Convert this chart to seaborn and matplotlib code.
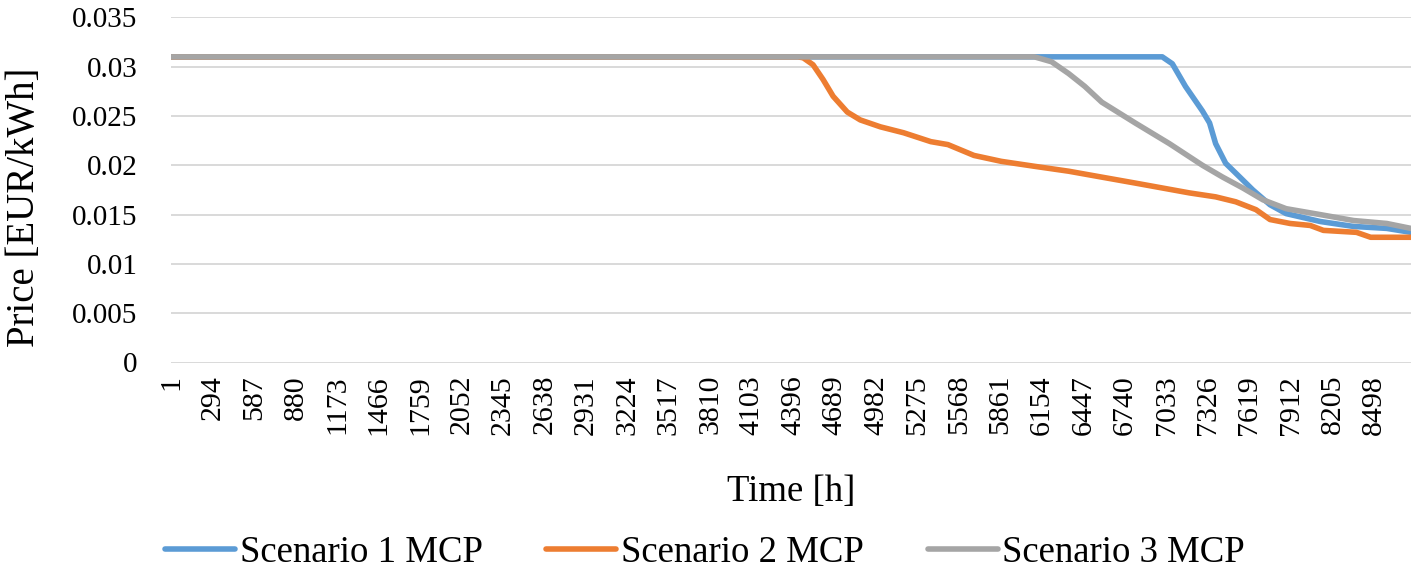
import matplotlib
matplotlib.use("Agg")
import matplotlib.pyplot as plt
import seaborn as sns
import pandas as pd

# ---- data ----
series_names = ["Scenario 1 MCP", "Scenario 2 MCP", "Scenario 3 MCP"]

hours_s1 = [1, 7003, 7074, 7167, 7287, 7337, 7380, 7451, 7551, 7643, 7764, 7878, 8119, 8354, 8589, 8760]
price_s1 = [0.031, 0.031, 0.0303, 0.0280, 0.0255, 0.0243, 0.0222, 0.0202, 0.0188, 0.0175, 0.0160,
            0.0151, 0.0143, 0.0138, 0.0136, 0.0132]

hours_s2 = [1, 4430, 4467, 4536, 4607, 4678, 4778, 4870, 5012, 5176, 5368, 5489, 5673, 5866, 6100,
            6342, 6576, 6811, 7003, 7195, 7380, 7522, 7665, 7764, 7906, 8048, 8141, 8375, 8475, 8760]
price_s2 = [0.031, 0.031, 0.0309, 0.0302, 0.0287, 0.0270, 0.0254, 0.0246, 0.0239, 0.0233, 0.0224,
            0.0221, 0.0210, 0.0204, 0.0199, 0.0194, 0.0188, 0.0182, 0.0177, 0.0172, 0.0168, 0.0163,
            0.0155, 0.0145, 0.0141, 0.0139, 0.0134, 0.0132, 0.0127, 0.0127]

hours_s3 = [1, 6100, 6221, 6342, 6456, 6576, 6811, 7053, 7287, 7430, 7572, 7714, 7878, 8119, 8354, 8589, 8760]
price_s3 = [0.031, 0.031, 0.0305, 0.0293, 0.0280, 0.0264, 0.0243, 0.0222, 0.0200, 0.0188, 0.0177,
            0.0165, 0.0156, 0.0150, 0.0144, 0.0141, 0.0136]

x_tick_labels = ["1", "294", "587", "880", "1173", "1466", "1759", "2052", "2345", "2638", "2931",
                 "3224", "3517", "3810", "4103", "4396", "4689", "4982", "5275", "5568", "5861",
                 "6154", "6447", "6740", "7033", "7326", "7619", "7912", "8205", "8498"]
y_tick_values = [0, 0.005, 0.01, 0.015, 0.02, 0.025, 0.03, 0.035]
y_tick_labels = ["0", "0.005", "0.01", "0.015", "0.02", "0.025", "0.03", "0.035"]

colors = ["#5B9BD5", "#ED7D31", "#A5A5A5"]

# ---- build long-form table ----
frames = []
for name, h, p in zip(series_names, [hours_s1, hours_s2, hours_s3], [price_s1, price_s2, price_s3]):
    frames.append(pd.DataFrame({"Time": h, "Price": p, "Series": name}))
df = pd.concat(frames, ignore_index=True)

sns.set_theme(style="white")
plt.rcParams["font.family"] = ["Liberation Serif", "DejaVu Serif"]
plt.rcParams["text.color"] = "black"
plt.rcParams["xtick.color"] = "black"
plt.rcParams["ytick.color"] = "black"
plt.rcParams["axes.labelcolor"] = "black"

fig = plt.figure(figsize=(14.18, 5.72), dpi=100)
ax = fig.add_axes([171 / 1418, 1 - 362.5 / 572, (1411 - 171) / 1418, (362.5 - 17.4) / 572])

sns.lineplot(data=df, x="Time", y="Price", hue="Series", hue_order=series_names,
             palette=colors, estimator=None, sort=False, linewidth=4.0, ax=ax, legend=False)

ax.set_xlim(1, 8760)
ax.set_ylim(0, 0.035)
ax.set_yticks(y_tick_values)
ax.set_yticklabels(y_tick_labels)
ax.set_xticks([int(t) for t in x_tick_labels])
ax.set_xticklabels(x_tick_labels, rotation=90)
ax.tick_params(axis="y", length=0, pad=24, labelsize=21, labelcolor="black")
ax.tick_params(axis="x", length=0, pad=9, labelsize=21.5, labelcolor="black")

for s in ax.spines.values():
    s.set_visible(False)
ax.yaxis.grid(True, color="#d9d9d9", linewidth=1.4)
ax.xaxis.grid(False)
ax.set_axisbelow(True)

ax.set_xlabel("Time [h]", fontsize=26.5, color="black")
ax.set_ylabel("Price [EUR/kWh]", fontsize=28, color="black")
ax.xaxis.set_label_coords((791 - 171) / 1240, -(475 - 362.5) / 345.1)
ax.xaxis.label.set_va("top")
ax.yaxis.set_label_coords((43 - 171) / 1240, (362.5 - 207) / 345.1)

handles = [plt.Line2D([0], [0], color=c, linewidth=4.0) for c in colors]
fig.legend(handles, series_names, loc="center", bbox_to_anchor=(705 / 1418, 1 - 553 / 572),
           ncol=3, frameon=False, fontsize=26.5, handlelength=1.9, handletextpad=0.13,
           columnspacing=1.73)

fig.savefig("out.png", dpi=100)
